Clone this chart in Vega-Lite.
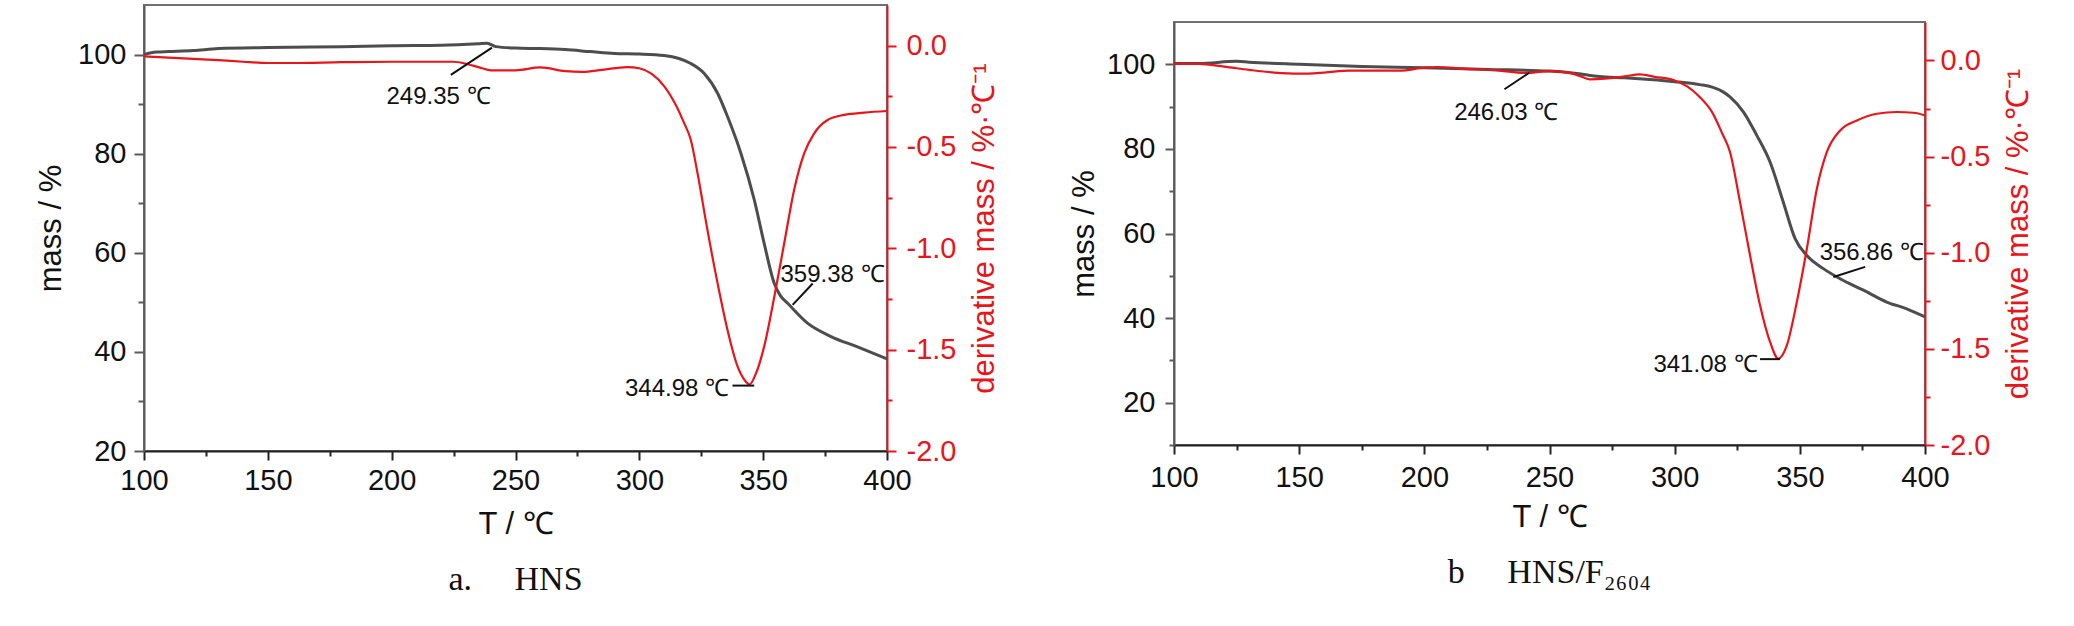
{
  "$schema": "https://vega.github.io/schema/vega-lite/v6.json",
  "background": "white",
  "padding": {"left": 34, "top": 4, "right": 5, "bottom": 5},
  "spacing": 66,
  "datasets": {
    "a_mass": [
      {"T": 100, "mass": 100.0}, {"T": 105, "mass": 100.5}, {"T": 110, "mass": 100.6}, {"T": 120, "mass": 100.8},
      {"T": 130, "mass": 101.2}, {"T": 150, "mass": 101.4}, {"T": 180, "mass": 101.6}, {"T": 200, "mass": 101.8},
      {"T": 220, "mass": 101.9}, {"T": 235, "mass": 102.2}, {"T": 238.5, "mass": 102.3}, {"T": 242, "mass": 101.6},
      {"T": 250, "mass": 101.3}, {"T": 260, "mass": 101.2}, {"T": 270, "mass": 101.0}, {"T": 280, "mass": 100.6},
      {"T": 290, "mass": 100.2}, {"T": 300, "mass": 100.1}, {"T": 310, "mass": 99.8}, {"T": 316, "mass": 99.2},
      {"T": 320.8, "mass": 98.2}, {"T": 326.2, "mass": 96.2}, {"T": 331.6, "mass": 92.2}, {"T": 335.6, "mass": 87.5},
      {"T": 341, "mass": 80.1}, {"T": 346.4, "mass": 70.7}, {"T": 350.4, "mass": 61.9}, {"T": 354.5, "mass": 53.8},
      {"T": 357, "mass": 51.3}, {"T": 359.9, "mass": 49.8}, {"T": 367.9, "mass": 45.8}, {"T": 377.4, "mass": 43.1},
      {"T": 388.1, "mass": 41.0}, {"T": 400, "mass": 38.6}
    ],
    "a_dtg": [
      {"T": 100, "dtg": -0.053}, {"T": 110, "dtg": -0.06}, {"T": 120, "dtg": -0.066}, {"T": 130, "dtg": -0.072},
      {"T": 140, "dtg": -0.08}, {"T": 150, "dtg": -0.086}, {"T": 160, "dtg": -0.086}, {"T": 180, "dtg": -0.082},
      {"T": 200, "dtg": -0.08}, {"T": 225, "dtg": -0.08}, {"T": 230, "dtg": -0.09}, {"T": 236, "dtg": -0.11},
      {"T": 240, "dtg": -0.122}, {"T": 250, "dtg": -0.122}, {"T": 260, "dtg": -0.108}, {"T": 270, "dtg": -0.126},
      {"T": 277, "dtg": -0.13}, {"T": 285, "dtg": -0.12}, {"T": 295, "dtg": -0.106}, {"T": 300, "dtg": -0.112},
      {"T": 305, "dtg": -0.14}, {"T": 310, "dtg": -0.2}, {"T": 315, "dtg": -0.3}, {"T": 318, "dtg": -0.38},
      {"T": 320.8, "dtg": -0.466}, {"T": 323.5, "dtg": -0.63}, {"T": 327.5, "dtg": -0.91}, {"T": 331.6, "dtg": -1.173},
      {"T": 335.6, "dtg": -1.403}, {"T": 339.7, "dtg": -1.584}, {"T": 342.5, "dtg": -1.65}, {"T": 344.5, "dtg": -1.672},
      {"T": 347.1, "dtg": -1.617}, {"T": 350.4, "dtg": -1.485}, {"T": 354.5, "dtg": -1.239}, {"T": 358.5, "dtg": -0.975},
      {"T": 362.5, "dtg": -0.712}, {"T": 366.6, "dtg": -0.531}, {"T": 370.6, "dtg": -0.433}, {"T": 376, "dtg": -0.367},
      {"T": 382.7, "dtg": -0.342}, {"T": 390.8, "dtg": -0.331}, {"T": 400, "dtg": -0.323}
    ],
    "a_notes": [
      {"T": 218.9, "mass": 91.4, "label": "249.35 ℃"},
      {"T": 378, "mass": 55.5, "label": "359.38 ℃"},
      {"T": 315.2, "mass": 32.6, "label": "344.98 ℃"}
    ],
    "a_leaders": [
      {"T": 223.9, "T2": 240.5, "mass": 95.9, "mass2": 101.4},
      {"T": 361.9, "T2": 370, "mass": 49.5, "mass2": 53.8},
      {"T": 337.6, "T2": 346.4, "mass": 33.2, "mass2": 33.2}
    ],
    "b_mass": [
      {"T": 100, "mass": 100.2}, {"T": 110, "mass": 100.2}, {"T": 125, "mass": 100.7}, {"T": 130, "mass": 100.5},
      {"T": 150, "mass": 100.0}, {"T": 175, "mass": 99.5}, {"T": 200, "mass": 99.2}, {"T": 225, "mass": 98.8},
      {"T": 250, "mass": 98.4}, {"T": 260, "mass": 97.9}, {"T": 270, "mass": 97.1}, {"T": 280, "mass": 96.8},
      {"T": 290, "mass": 96.4}, {"T": 300, "mass": 95.9}, {"T": 310, "mass": 95.2}, {"T": 315, "mass": 94.6},
      {"T": 319, "mass": 93.6}, {"T": 322.1, "mass": 92.3}, {"T": 327.5, "mass": 88.7}, {"T": 332.8, "mass": 83.2},
      {"T": 338.1, "mass": 76.9}, {"T": 343.4, "mass": 67.4}, {"T": 348.1, "mass": 58.8}, {"T": 352.8, "mass": 54.8},
      {"T": 359.4, "mass": 51.7}, {"T": 366.1, "mass": 49.3}, {"T": 375.4, "mass": 46.6}, {"T": 384.7, "mass": 43.8},
      {"T": 392.7, "mass": 42.2}, {"T": 400, "mass": 40.3}
    ],
    "b_dtg": [
      {"T": 100, "dtg": -0.018}, {"T": 110, "dtg": -0.018}, {"T": 120, "dtg": -0.032}, {"T": 130, "dtg": -0.049},
      {"T": 140, "dtg": -0.063}, {"T": 150, "dtg": -0.069}, {"T": 160, "dtg": -0.063}, {"T": 170, "dtg": -0.053},
      {"T": 190, "dtg": -0.053}, {"T": 200, "dtg": -0.038}, {"T": 205, "dtg": -0.034}, {"T": 215, "dtg": -0.042},
      {"T": 230, "dtg": -0.053}, {"T": 240, "dtg": -0.065}, {"T": 250, "dtg": -0.056}, {"T": 258, "dtg": -0.065},
      {"T": 262, "dtg": -0.08}, {"T": 266, "dtg": -0.098}, {"T": 272, "dtg": -0.095}, {"T": 280, "dtg": -0.083},
      {"T": 286, "dtg": -0.072}, {"T": 292, "dtg": -0.085}, {"T": 300, "dtg": -0.104}, {"T": 305, "dtg": -0.135},
      {"T": 310, "dtg": -0.19}, {"T": 315, "dtg": -0.27}, {"T": 319, "dtg": -0.38}, {"T": 322.1, "dtg": -0.476},
      {"T": 326.1, "dtg": -0.736}, {"T": 330.1, "dtg": -1.013}, {"T": 334.1, "dtg": -1.273}, {"T": 338.1, "dtg": -1.464},
      {"T": 341.4, "dtg": -1.551}, {"T": 344.8, "dtg": -1.482}, {"T": 348.8, "dtg": -1.256}, {"T": 352.8, "dtg": -0.979},
      {"T": 356.8, "dtg": -0.667}, {"T": 360.8, "dtg": -0.476}, {"T": 366.1, "dtg": -0.364}, {"T": 372.8, "dtg": -0.312},
      {"T": 380.7, "dtg": -0.277}, {"T": 388.7, "dtg": -0.268}, {"T": 395.4, "dtg": -0.272}, {"T": 400, "dtg": -0.286}
    ],
    "b_notes": [
      {"T": 232.7, "mass": 88.6, "label": "246.03 ℃"},
      {"T": 378.7, "mass": 55.4, "label": "356.86 ℃"},
      {"T": 312.3, "mass": 29, "label": "341.08 ℃"}
    ],
    "b_leaders": [
      {"T": 232, "T2": 241.9, "mass": 94.1, "mass2": 98.0},
      {"T": 363.4, "T2": 376.1, "mass": 49.7, "mass2": 52.1},
      {"T": 334.1, "T2": 342.1, "mass": 30.3, "mass2": 30.3}
    ]
  },
  "config": {
    "font": "'Liberation Sans', Arial, sans-serif",
    "view": {"stroke": "#707070", "strokeWidth": 2},
    "axis": {
      "grid": false,
      "labelFont": "'Liberation Sans', Arial, sans-serif",
      "titleFont": "'Liberation Sans', Arial, sans-serif",
      "labelFontSize": 29,
      "titleFontSize": 31,
      "titleFontWeight": "normal",
      "labelColor": "#111111",
      "titleColor": "#111111",
      "domainWidth": 2,
      "tickWidth": 2,
      "labelFlush": false,
      "labelOverlap": false,
      "labelPadding": 6
    },
    "title": {
      "font": "'Liberation Serif', 'DejaVu Serif', serif",
      "fontSize": 34,
      "fontWeight": "normal",
      "color": "#111111",
      "orient": "bottom",
      "anchor": "middle",
      "offset": 24
    }
  },
  "hconcat": [
    {
      "width": 743,
      "height": 446,
      "title": {"text": "a.\u00a0\u00a0\u00a0\u00a0\u00a0HNS"},
      "layer": [
        {
          "data": {"name": "a_mass"},
          "mark": {"type": "line", "color": "#4d4d4d", "strokeWidth": 3, "interpolate": "monotone"},
          "encoding": {
            "x": {
              "field": "T", "type": "quantitative",
              "scale": {"domain": [100, 400], "nice": false},
              "axis": {
                "title": "T / ℃",
                "values": [100, 125, 150, 175, 200, 225, 250, 275, 300, 325, 350, 375, 400],
                "labelExpr": "datum.value % 50 === 0 ? datum.label : ''",
                "tickSize": {"condition": {"test": "datum.value % 50 === 0", "value": 9}, "value": 5},
                "domainColor": "#222222", "tickColor": "#222222",
                "titlePadding": 14
              }
            },
            "y": {
              "field": "mass", "type": "quantitative",
              "scale": {"domain": [20, 110], "nice": false, "zero": false},
              "axis": {
                "title": "mass / %",
                "values": [20, 30, 40, 50, 60, 70, 80, 90, 100],
                "labelExpr": "datum.value % 20 === 0 ? datum.label : ''",
                "tickSize": {"condition": {"test": "datum.value % 20 === 0", "value": 10}, "value": 6},
                "domainColor": "#5a5a5a", "tickColor": "#5a5a5a",
                "labelPadding": 8, "titlePadding": 10
              }
            }
          }
        },
        {
          "data": {"name": "a_dtg"},
          "mark": {"type": "line", "color": "#e8151b", "strokeWidth": 2.2, "interpolate": "monotone"},
          "encoding": {
            "x": {"field": "T", "type": "quantitative", "scale": {"domain": [100, 400], "nice": false}},
            "y": {
              "field": "dtg", "type": "quantitative",
              "scale": {"domain": [-2, 0.2], "nice": false, "zero": false},
              "axis": {
                "orient": "right",
                "title": "derivative mass / %·℃⁻¹",
                "titleAngle": 270,
                "titleBaseline": "top",
                "values": [-2, -1.75, -1.5, -1.25, -1, -0.75, -0.5, -0.25, 0],
                "labelExpr": "abs(datum.value * 2 - round(datum.value * 2)) < 0.001 ? (datum.value < 0 ? '-' : '') + format(abs(datum.value), '.1f') : ''",
                "tickSize": {"condition": {"test": "abs(datum.value * 2 - round(datum.value * 2)) < 0.001", "value": 9}, "value": 5},
                "domainColor": "#e8151b", "tickColor": "#e8151b",
                "labelColor": "#e8151b", "titleColor": "#e8151b",
                "labelPadding": 10, "titlePadding": 14
              }
            }
          }
        },
        {
          "data": {"name": "a_leaders"},
          "mark": {"type": "rule", "color": "#111111", "strokeWidth": 2},
          "encoding": {
            "x": {"field": "T", "type": "quantitative", "scale": {"domain": [100, 400], "nice": false}},
            "x2": {"field": "T2"},
            "y": {"field": "mass", "type": "quantitative", "scale": {"domain": [20, 110], "nice": false, "zero": false}, "axis": null},
            "y2": {"field": "mass2"}
          }
        },
        {
          "data": {"name": "a_notes"},
          "mark": {"type": "text", "fontSize": 24, "color": "#111111", "align": "center", "baseline": "middle"},
          "encoding": {
            "x": {"field": "T", "type": "quantitative", "scale": {"domain": [100, 400], "nice": false}},
            "y": {"field": "mass", "type": "quantitative", "scale": {"domain": [20, 110], "nice": false, "zero": false}, "axis": null},
            "text": {"field": "label"}
          }
        }
      ],
      "resolve": {"scale": {"y": "independent"}}
    },
    {
      "spacing": 10,
      "vconcat": [
        {
          "width": 10,
          "height": 5,
          "view": {"stroke": null},
          "data": {"values": [{}]},
          "mark": {"type": "point", "opacity": 0},
          "encoding": {}
        },
        {
          "width": 751,
          "height": 423,
          "title": {"text": "b\u00a0\u00a0\u00a0\u00a0\u00a0HNS/F₂₆₀₄"},
          "layer": [
            {
              "data": {"name": "b_mass"},
              "mark": {"type": "line", "color": "#4d4d4d", "strokeWidth": 3, "interpolate": "monotone"},
              "encoding": {
                "x": {
                  "field": "T", "type": "quantitative",
                  "scale": {"domain": [100, 400], "nice": false},
                  "axis": {
                    "title": "T / ℃",
                    "values": [100, 125, 150, 175, 200, 225, 250, 275, 300, 325, 350, 375, 400],
                    "labelExpr": "datum.value % 50 === 0 ? datum.label : ''",
                    "tickSize": {"condition": {"test": "datum.value % 50 === 0", "value": 9}, "value": 5},
                    "domainColor": "#222222", "tickColor": "#222222",
                    "labelPadding": 9, "titlePadding": 10
                  }
                },
                "y": {
                  "field": "mass", "type": "quantitative",
                  "scale": {"domain": [10, 110], "nice": false, "zero": false},
                  "axis": {
                    "title": "mass / %",
                    "values": [10, 20, 30, 40, 50, 60, 70, 80, 90, 100],
                    "labelExpr": "datum.value % 20 === 0 ? datum.label : ''",
                    "tickSize": {"condition": {"test": "datum.value % 20 === 0", "value": 9}, "value": 5},
                    "domainColor": "#5a5a5a", "tickColor": "#5a5a5a",
                    "labelPadding": 10, "titlePadding": 6
                  }
                }
              }
            },
            {
              "data": {"name": "b_dtg"},
              "mark": {"type": "line", "color": "#e8151b", "strokeWidth": 2.2, "interpolate": "monotone"},
              "encoding": {
                "x": {"field": "T", "type": "quantitative", "scale": {"domain": [100, 400], "nice": false}},
                "y": {
                  "field": "dtg", "type": "quantitative",
                  "scale": {"domain": [-2, 0.2], "nice": false, "zero": false},
                  "axis": {
                    "orient": "right",
                    "title": "derivative mass / %·℃⁻¹",
                    "titleAngle": 270,
                    "titleBaseline": "top",
                    "values": [-2, -1.75, -1.5, -1.25, -1, -0.75, -0.5, -0.25, 0],
                    "labelExpr": "abs(datum.value * 2 - round(datum.value * 2)) < 0.001 ? (datum.value < 0 ? '-' : '') + format(abs(datum.value), '.1f') : ''",
                    "tickSize": {"condition": {"test": "abs(datum.value * 2 - round(datum.value * 2)) < 0.001", "value": 9}, "value": 5},
                    "domainColor": "#e8151b", "tickColor": "#e8151b",
                    "labelColor": "#e8151b", "titleColor": "#e8151b",
                    "labelPadding": 6, "titlePadding": 14
                  }
                }
              }
            },
            {
              "data": {"name": "b_leaders"},
              "mark": {"type": "rule", "color": "#111111", "strokeWidth": 2},
              "encoding": {
                "x": {"field": "T", "type": "quantitative", "scale": {"domain": [100, 400], "nice": false}},
                "x2": {"field": "T2"},
                "y": {"field": "mass", "type": "quantitative", "scale": {"domain": [10, 110], "nice": false, "zero": false}, "axis": null},
                "y2": {"field": "mass2"}
              }
            },
            {
              "data": {"name": "b_notes"},
              "mark": {"type": "text", "fontSize": 24, "color": "#111111", "align": "center", "baseline": "middle"},
              "encoding": {
                "x": {"field": "T", "type": "quantitative", "scale": {"domain": [100, 400], "nice": false}},
                "y": {"field": "mass", "type": "quantitative", "scale": {"domain": [10, 110], "nice": false, "zero": false}, "axis": null},
                "text": {"field": "label"}
              }
            }
          ],
          "resolve": {"scale": {"y": "independent"}}
        }
      ]
    }
  ]
}
